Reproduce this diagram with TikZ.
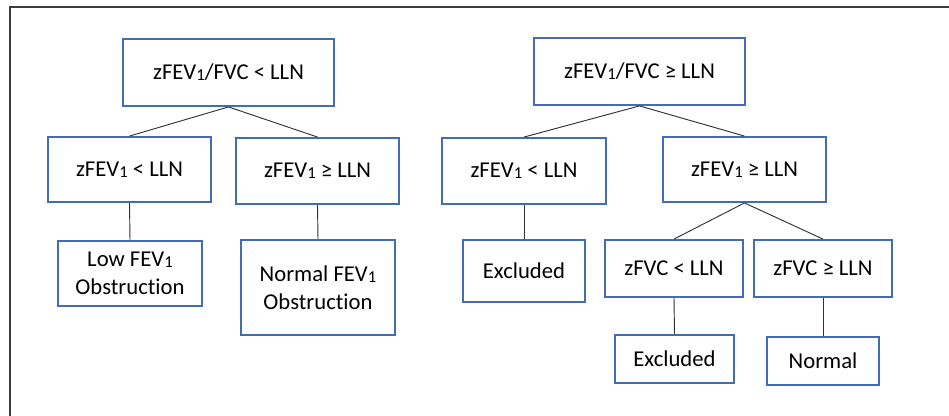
\documentclass[tikz,border=0pt]{standalone}
\usepackage{fontspec}
\setmainfont[Ligatures={NoCommon,NoRare}]{Carlito}
\newcommand{\one}{\raisebox{-0.1ex}{\fontsize{12.5}{12.5}\selectfont 1}}
\begin{document}
\begin{tikzpicture}[x=0.75pt,y=-0.75pt,
  box/.style={draw={rgb,255:red,68;green,108;blue,180}, line width=1.4pt, fill=white, inner sep=0pt, align=center, font=\fontsize{17}{21}\selectfont, text=black},
  link/.style={draw={rgb,255:red,50;green,50;blue,50}, line width=0.7pt}]
\useasboundingbox (0,0) rectangle (949,416);
\fill[white] (0,0) rectangle (949,416);
\draw[line width=1.5pt, draw={rgb,255:red,60;green,60;blue,60}] (10,416) -- (10,7) -- (949,7);
% left tree
\node[box, minimum width=158.25pt, minimum height=50.25pt] (tl) at (228.5,72.5) {zFEV\one/FVC < LLN};
\node[box, minimum width=122.25pt, minimum height=48.75pt] (l1) at (129.5,169.5) {zFEV\one{} < LLN};
\node[box, minimum width=122.25pt, minimum height=49.5pt] (l2) at (317.5,171) {zFEV\one{} ≥ LLN};
\node[box, minimum width=108pt, minimum height=48.75pt] (l3) at (130,273.5) {Low FEV\one\\Obstruction};
\node[box, minimum width=115.5pt, minimum height=71.25pt] (l4) at (318,287.5) {Normal FEV\one\\Obstruction};
% right tree
\node[box, minimum width=158.25pt, minimum height=50.25pt] (tr) at (639.5,71.5) {zFEV\one/FVC ≥ LLN};
\node[box, minimum width=123pt, minimum height=49.5pt] (r1) at (524,171) {zFEV\one{} < LLN};
\node[box, minimum width=122.25pt, minimum height=48.75pt] (r2) at (744.5,169.5) {zFEV\one{} ≥ LLN};
\node[box, minimum width=91.5pt, minimum height=46.5pt] (r3) at (524,271) {Excluded};
\node[box, minimum width=103.5pt, minimum height=42.75pt] (r4) at (674,268.5) {zFVC < LLN};
\node[box, minimum width=103.5pt, minimum height=42.75pt] (r5) at (823,268.5) {zFVC ≥ LLN};
\node[box, minimum width=89.25pt, minimum height=36pt] (r6) at (674.5,359) {Excluded};
\node[box, minimum width=84pt, minimum height=36pt] (r7) at (823,361) {Normal};
% connectors
\draw[link] (tl.south) -- (l1.north);
\draw[link] (tl.south) -- (l2.north);
\draw[link] (l1.south) -- (l3.north);
\draw[link] (l2.south) -- (l4.north);
\draw[link] (tr.south) -- (r1.north);
\draw[link] (tr.south) -- (r2.north);
\draw[link] (r1.south) -- (r3.north);
\draw[link] (r2.south) -- (r4.north);
\draw[link] (r2.south) -- (r5.north);
\draw[link] (r4.south) -- (r6.north);
\draw[link] (r5.south) -- (r7.north);
\end{tikzpicture}
\end{document}
